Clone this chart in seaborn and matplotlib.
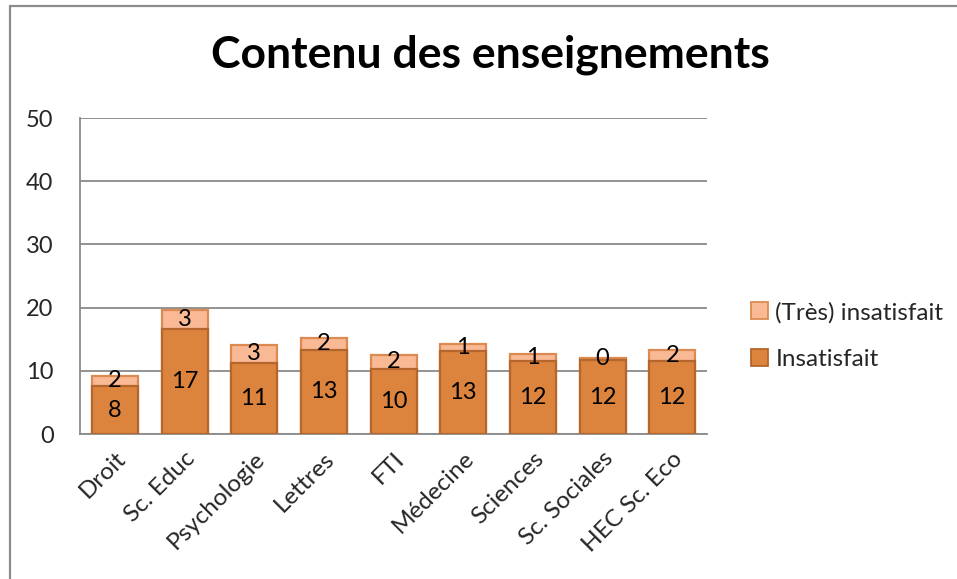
import matplotlib
matplotlib.use("Agg")
import matplotlib.pyplot as plt
from matplotlib.patches import Patch
from matplotlib.lines import Line2D
import seaborn as sns
import pandas as pd

categories = ["Droit", "Sc. Educ", "Psychologie", "Lettres", "FTI",
              "Médecine", "Sciences", "Sc. Sociales", "HEC Sc. Eco"]
insatisfait = [7.6, 16.6, 11.3, 13.3, 10.3, 13.1, 11.6, 11.7, 11.6]
tres_insatisfait = [1.6, 3.0, 2.8, 1.9, 2.2, 1.1, 1.0, 0.4, 1.7]
y_ticks = [0, 10, 20, 30, 40, 50]
title = "Contenu des enseignements"
series_names = ["(Très) insatisfait", "Insatisfait"]

sns.set_theme(style="white")
plt.rcParams["font.family"] = ["Lato", "DejaVu Sans"]

dark_face, dark_edge = "#DC843E", "#B5662C"
light_face, light_edge = "#F9B995", "#DB8B52"
grid_col = "#8A8A8A"
fs = 17

df = pd.DataFrame({"cat": categories,
                   "ins": insatisfait,
                   "tres": tres_insatisfait})
df["total"] = df["ins"] + df["tres"]

fig = plt.figure(figsize=(9.57, 5.79), dpi=100)
ax = fig.add_axes([0.0836, 0.2504, 0.6552, 0.5458])

sns.barplot(data=df, x="cat", y="total", color=light_face, edgecolor=light_edge,
            linewidth=1.6, width=0.66, saturation=1, ax=ax, zorder=3)
sns.barplot(data=df, x="cat", y="ins", color=dark_face, edgecolor=dark_edge,
            linewidth=1.6, width=0.66, saturation=1, ax=ax, zorder=4)

for i, (b, t) in enumerate(zip(insatisfait, tres_insatisfait)):
    ax.text(i, b / 2, f"{b:.0f}", ha="center", va="center", fontsize=fs,
            color="black", zorder=6)
    ax.text(i, b + t / 2, f"{t:.0f}", ha="center", va="center", fontsize=fs,
            color="black", zorder=6)

ax.set_ylim(0, 50)
ax.set_xlim(-0.5, len(categories) - 0.5)
ax.set_yticks(y_ticks)
ax.set_yticklabels([str(v) for v in y_ticks], fontsize=fs)
ax.set_xticks(range(len(categories)))
ax.set_xticklabels(categories, rotation=45, ha="right", rotation_mode="anchor",
                   fontsize=fs + 0.5)
ax.tick_params(axis="y", length=0, pad=19)
ax.tick_params(axis="x", length=0, pad=10)
ax.set_xlabel("")
ax.set_ylabel("")
ax.yaxis.grid(True, color=grid_col, linewidth=1.3, zorder=0)
ax.set_axisbelow(True)
for s in ["top", "right"]:
    ax.spines[s].set_visible(False)
for s in ["left", "bottom"]:
    ax.spines[s].set_color(grid_col)
    ax.spines[s].set_linewidth(1.3)

fig.text(0.512, 0.905, title, ha="center", va="center", fontsize=32,
         fontweight="bold", color="black")

handles = [Patch(facecolor=light_face, edgecolor=light_edge, linewidth=1.3),
           Patch(facecolor=dark_face, edgecolor=dark_edge, linewidth=1.3)]
fig.legend(handles, series_names, loc="center left",
           bbox_to_anchor=(0.772, 0.42), frameon=False, fontsize=fs + 0.5,
           handlelength=0.7, handleheight=0.7, handletextpad=0.3,
           labelspacing=1.05, borderpad=0)

# outer chart frame (left and top)
fig.add_artist(Line2D([10 / 957, 10 / 957], [0, 1 - 6 / 579],
                      transform=fig.transFigure, color="#8C8C8C", linewidth=1.6))
fig.add_artist(Line2D([10 / 957, 1], [1 - 6 / 579, 1 - 6 / 579],
                      transform=fig.transFigure, color="#8C8C8C", linewidth=1.6))

fig.savefig("out.png", dpi=100, facecolor="white")
